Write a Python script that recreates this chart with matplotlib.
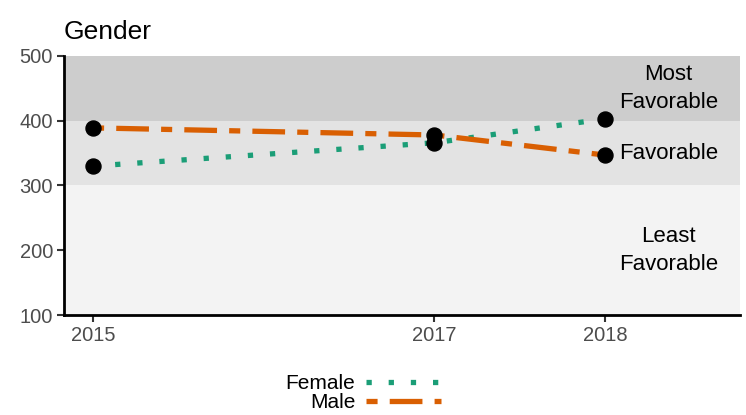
import matplotlib
matplotlib.use("Agg")
import matplotlib.pyplot as plt
from matplotlib.lines import Line2D

plt.rcParams['font.family'] = ['Liberation Sans', 'DejaVu Sans']

years = [2015, 2017, 2018]
female = [330, 366, 403]
male = [389, 378, 347]
bands = [(100, 300, '#f3f3f3'), (300, 400, '#e3e3e3'), (400, 500, '#cdcdcd')]
band_labels = [(200, 'Least\nFavorable'), (350, 'Favorable'), (450, 'Most\nFavorable')]

fcol = '#1b9e77'
mcol = '#d95f02'
lw = 3.8
fdash = (1, 3.2)
mdash = (2.1, 2.3, 6.2, 2.3)

fig = plt.figure(figsize=(7.46, 4.15), dpi=100)
ax = fig.add_axes([64 / 746, 1 - 315 / 415, 676 / 746, 259 / 415])

for lo, hi, c in bands:
    ax.axhspan(lo, hi, color=c, lw=0, zorder=0)

ax.plot(years, female, color=fcol, lw=lw, dashes=fdash, dash_capstyle='butt', zorder=2)
ax.plot(years, male, color=mcol, lw=lw, dashes=mdash, dash_capstyle='butt', zorder=2)
ax.plot(years, female, 'o', color='black', ms=10.8, zorder=3)
ax.plot(years, male, 'o', color='black', ms=10.8, zorder=3)

for y, t in band_labels:
    ax.text(2018.37, y, t, ha='center', va='center', fontsize=16, linespacing=1.45)

ax.set_xlim(2014.83, 2018.79)
ax.set_ylim(100, 500)
ax.set_xticks(years)
ax.set_yticks([100, 200, 300, 400, 500])
ax.tick_params(colors='#333333', labelcolor='#4d4d4d', labelsize=14.5, width=1.5, length=5, pad=3)
for s in ['top', 'right']:
    ax.spines[s].set_visible(False)
for s in ['left', 'bottom']:
    ax.spines[s].set_linewidth(2)

ax.set_title('Gender', loc='left', fontsize=19, pad=12, x=0)

handles = [Line2D([], [], color=fcol, lw=lw, dashes=fdash, dash_capstyle='butt'),
           Line2D([], [], color=mcol, lw=lw, dashes=mdash, dash_capstyle='butt')]
fig.legend(handles, ['Female', 'Male'], loc='center', bbox_to_anchor=(363 / 746, 1 - 393 / 415),
           frameon=False, markerfirst=False, fontsize=15, handlelength=3.6,
           labelspacing=0.0, handletextpad=0.5, borderpad=0)

fig.savefig('out.png', dpi=100)
